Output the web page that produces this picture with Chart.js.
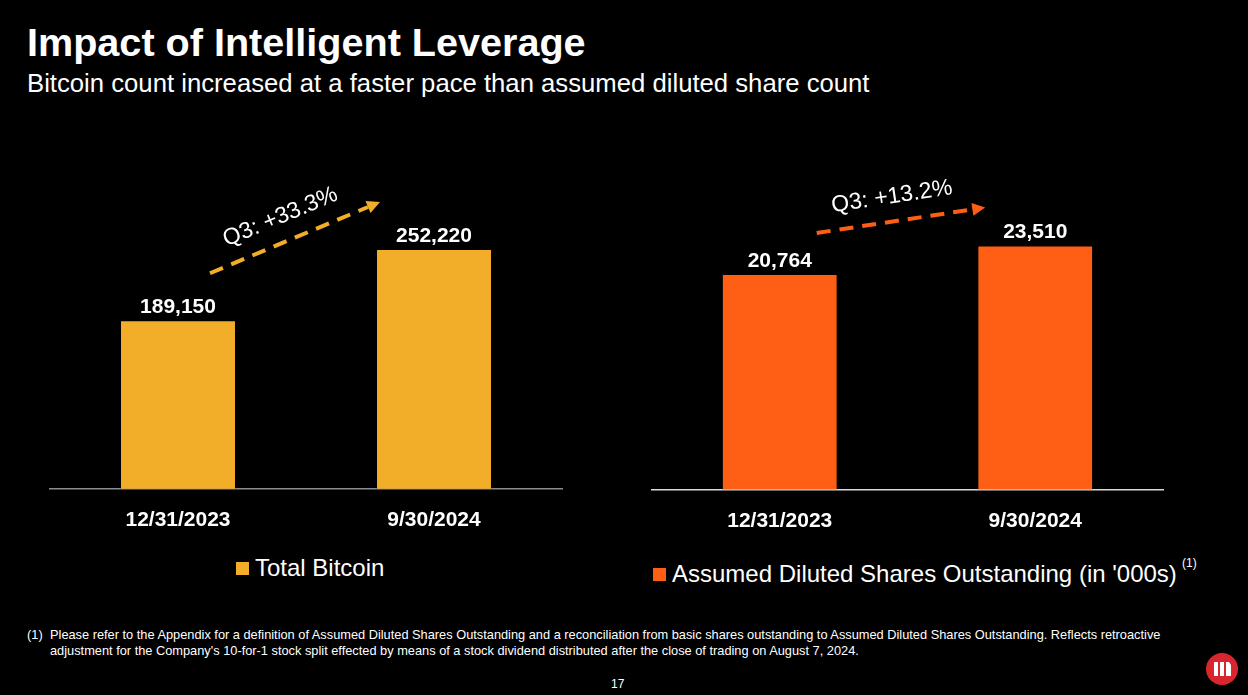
<!DOCTYPE html>
<html>
<head>
<meta charset="utf-8">
<script src="https://cdn.jsdelivr.net/npm/chart.js@4.4.1/dist/chart.umd.min.js"></script>
<style>
  html, body { margin: 0; padding: 0; background: #000; }
  body { width: 1248px; height: 695px; position: relative; overflow: hidden; font-family: 'Liberation Sans', Arial, sans-serif; color: #fff; }
  .title { position: absolute; left: 27px; top: 20px; font-size: 39.6px; font-weight: bold; white-space: nowrap; }
  .subtitle { position: absolute; left: 27px; top: 69px; font-size: 25.7px; white-space: nowrap; }
  .chart-box { position: absolute; top: 100px; }
  #boxLeft  { left: 30px;  width: 552px; height: 452px; }
  #boxRight { left: 632px; width: 551px; height: 453px; }
  .legend { position: absolute; font-size: 24px; white-space: nowrap; line-height: 28px; }
  .legend i { display: inline-block; width: 13px; height: 13px; margin-right: 6px; vertical-align: 1px; }
  #legLeft  { left: 236px; top: 554px; }
  #legRight { left: 653px; top: 560px; }
  .sup { position: absolute; left: 1182px; top: 556px; font-size: 12px; }
  .footnote { position: absolute; left: 27px; top: 627px; font-size: 12.8px; line-height: 15.5px; white-space: nowrap; }
  .footnote .num { position: absolute; left: 0; top: 0; }
  .footnote .txt { position: absolute; left: 23px; top: 0; }
  .page { position: absolute; left: 611px; top: 677px; font-size: 12px; }
  .logo { position: absolute; left: 1205px; top: 652px; }
</style>
</head>
<body>
<div class="title">Impact of Intelligent Leverage</div>
<div class="subtitle">Bitcoin count increased at a faster pace than assumed diluted share count</div>

<div class="chart-box" id="boxLeft"><canvas id="btcChart"></canvas></div>
<div class="chart-box" id="boxRight"><canvas id="sharesChart"></canvas></div>
<div class="legend" id="legLeft"></div>
<div class="legend" id="legRight"></div>
<div class="sup">(1)</div>

<div class="footnote">
  <span class="num">(1)</span>
  <span class="txt">Please refer to the Appendix for a definition of Assumed Diluted Shares Outstanding and a reconciliation from basic shares outstanding to Assumed Diluted Shares Outstanding. Reflects retroactive<br>adjustment for the Company's 10-for-1 stock split effected by means of a stock dividend distributed after the close of trading on August 7, 2024.</span>
</div>
<div class="page">17</div>
<svg class="logo" width="34" height="34" viewBox="0 0 34 34">
  <circle cx="17" cy="17" r="16" fill="#d9262e"/>
  <rect x="9" y="10" width="4" height="14" fill="#fff"/>
  <rect x="15" y="10" width="4" height="14" fill="#fff"/>
  <polygon points="21,10 24,10 26,13 26,24 21,24" fill="#fff"/>
</svg>

<script>
// ── Data ─────────────────────────────────────────────────────
const dates         = ['12/31/2023', '9/30/2024'];
const totalBitcoin  = [189150, 252220];
const dilutedShares = [20764, 23510];
const btcChange     = 'Q3: +33.3%';
const sharesChange  = 'Q3: +13.2%';

const GOLD   = '#f2ae29';
const ORANGE = '#ff5f14';
const FONT   = "'Liberation Sans', Arial, sans-serif";

// ── Value labels above bars ──────────────────────────────────
const valueLabels = {
  id: 'valueLabels',
  afterDatasetsDraw(chart) {
    const { ctx } = chart;
    const meta = chart.getDatasetMeta(0);
    ctx.save();
    ctx.fillStyle = '#fff';
    ctx.font = 'bold 21px ' + FONT;
    ctx.textAlign = 'center';
    ctx.textBaseline = 'alphabetic';
    meta.data.forEach((bar, i) => {
      const v = chart.data.datasets[0].data[i];
      ctx.fillText(v.toLocaleString('en-US'), bar.x, bar.y - 7);
    });
    ctx.restore();
  }
};

// ── Dashed growth arrow with rotated caption ─────────────────
const growthArrow = {
  id: 'growthArrow',
  afterDatasetsDraw(chart, args, opts) {
    const { ctx } = chart;
    const bars = chart.getDatasetMeta(0).data;
    if (bars.length < 2) return;
    const x1 = bars[0].x + opts.startDx, y1 = bars[0].y + opts.startDy;
    const x2 = bars[1].x + opts.endDx,   y2 = bars[1].y + opts.endDy;
    const ang = Math.atan2(y2 - y1, x2 - x1);
    const ux = Math.cos(ang), uy = Math.sin(ang);
    const head = 13;
    ctx.save();
    ctx.strokeStyle = opts.color;
    ctx.fillStyle = opts.color;
    ctx.lineWidth = 4;
    ctx.setLineDash([14, 9]);
    ctx.beginPath();
    ctx.moveTo(x1, y1);
    ctx.lineTo(x2 - ux * head, y2 - uy * head);
    ctx.stroke();
    ctx.setLineDash([]);
    // arrowhead
    ctx.beginPath();
    ctx.moveTo(x2, y2);
    ctx.lineTo(x2 - ux * head + uy * 6.5, y2 - uy * head - ux * 6.5);
    ctx.lineTo(x2 - ux * head - uy * 6.5, y2 - uy * head + ux * 6.5);
    ctx.closePath();
    ctx.fill();
    // caption
    const mx = (x1 + x2) / 2, my = (y1 + y2) / 2;
    const nx = uy, ny = -ux;
    const tx = mx + nx * 24.5 - ux * 5.5, ty = my + ny * 24.5 - uy * 5.5;
    ctx.translate(tx, ty);
    ctx.rotate(ang);
    ctx.fillStyle = '#fff';
    ctx.font = '23px ' + FONT;
    ctx.textAlign = 'center';
    ctx.textBaseline = 'middle';
    ctx.fillText(opts.text, 0, 0);
    ctx.restore();
  }
};

function barChart(id, label, values, color, yMin, yMax, padTop, axisColor, arrow) {
  return new Chart(document.getElementById(id), {
    type: 'bar',
    data: {
      labels: dates,
      datasets: [{
        label,
        data: values,
        backgroundColor: color,
        borderColor: 'rgba(0,0,0,0.25)',
        borderWidth: 1,
        categoryPercentage: 1,
        barPercentage: 0.453
      }]
    },
    options: {
      responsive: true,
      maintainAspectRatio: false,
      animation: false,
      layout: { padding: { top: padTop, left: 20, right: 20, bottom: 0 } },
      plugins: {
        tooltip: { enabled: false },
        legend: { display: false },
        growthArrow: arrow
      },
      scales: {
        x: {
          grid: { display: false, drawTicks: false },
          border: { display: true, color: axisColor, width: 1.5 },
          ticks: { color: '#fff', font: { family: FONT, size: 21, weight: 'bold' }, padding: 19 }
        },
        y: { display: false, min: yMin, max: yMax }
      }
    },
    plugins: [valueLabels, growthArrow]
  });
}

// legend from the dataset itself (too wide for the chart's own legend box)
function htmlLegend(chart, elId) {
  const ds = chart.data.datasets[0];
  const el = document.getElementById(elId);
  const sw = document.createElement('i');
  sw.style.background = ds.backgroundColor;
  el.appendChild(sw);
  el.appendChild(document.createTextNode(ds.label));
}

const btc = barChart('btcChart', 'Total Bitcoin', totalBitcoin, GOLD, 40000, 300000, 95, '#8c8c8c',
  { color: GOLD, text: btcChange, startDx: 32, startDy: -47, endDx: -54, endDy: -47 });

const shares = barChart('sharesChart', "Assumed Diluted Shares Outstanding (in '000s)", dilutedShares, ORANGE, 0, 30000, 78, '#d9d9d9',
  { color: ORANGE, text: sharesChange, startDx: 37, startDy: -41, endDx: -50, endDy: -38 });

htmlLegend(btc, 'legLeft');
htmlLegend(shares, 'legRight');
</script>
</body>
</html>
